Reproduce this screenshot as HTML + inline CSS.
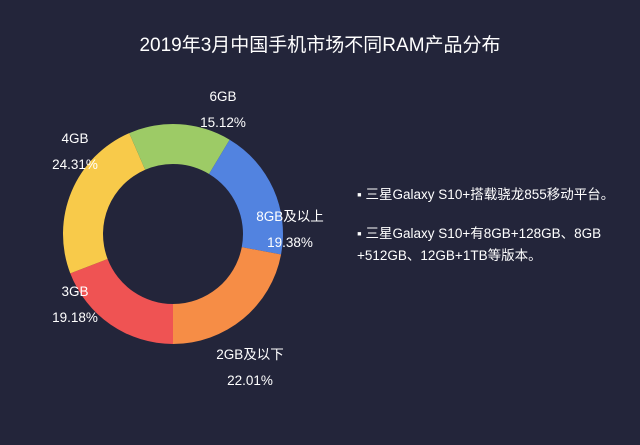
<!DOCTYPE html>
<html><head><meta charset="utf-8"><style>
body{margin:0;background:#23253a;width:640px;height:445px;overflow:hidden;font-family:"Liberation Sans","Noto Sans CJK SC",sans-serif;color:#fff}
svg{position:absolute;left:0;top:0}
.note{position:absolute;left:357px;font-size:13.5px;line-height:22px;color:#fff;width:280px}
</style></head><body>
<svg width="640" height="445">
<text x="320" y="51" text-anchor="middle" font-size="19" fill="#fff" font-family="Liberation Sans, Noto Sans CJK SC, sans-serif">2019年3月中国手机市场不同RAM产品分布</text>
<g id="slices"></g><g id="labels"></g>
</svg>
<div class="note" style="top:184px">▪ 三星Galaxy S10+搭载骁龙855移动平台。</div>
<div class="note" style="top:223px">▪ 三星Galaxy S10+有8GB+128GB、8GB<br>+512GB、12GB+1TB等版本。</div>
<script>
const categories=["3GB","4GB","6GB","8GB及以上","2GB及以下"];
const values=[19.18,24.31,15.12,19.38,22.01];
const colors=["#ef5353","#f8ca4a","#9dcb66","#5283e0","#f68d46"];
const labelPos=[[75,296],[75,143],[223,101],[290,221],[250,359]];
const cx=173,cy=234,R=110,r=70;
const ns="http://www.w3.org/2000/svg";
const total=values.reduce((a,b)=>a+b,0);
function pt(a,rad){return [cx+rad*Math.sin(a),cy-rad*Math.cos(a)];}
let a0=Math.PI;
const g=document.getElementById('slices'),lg=document.getElementById('labels');
values.forEach((v,i)=>{
  const a1=a0+v/total*2*Math.PI;
  const [x0,y0]=pt(a0,R),[x1,y1]=pt(a1,R),[x2,y2]=pt(a1,r),[x3,y3]=pt(a0,r);
  const lf=(a1-a0)>Math.PI?1:0;
  const p=document.createElementNS(ns,'path');
  p.setAttribute('d',`M${x0},${y0}A${R},${R} 0 ${lf} 1 ${x1},${y1}L${x2},${y2}A${r},${r} 0 ${lf} 0 ${x3},${y3}Z`);
  p.setAttribute('fill',colors[i]);
  
  
  g.appendChild(p);
  const [lx,ly]=labelPos[i];
  [categories[i],v.toFixed(2)+'%'].forEach((s,k)=>{
    const t=document.createElementNS(ns,'text');
    t.setAttribute('x',lx);t.setAttribute('y',ly+k*26);
    t.setAttribute('text-anchor','middle');t.setAttribute('font-size','13.5');t.setAttribute('fill','#fff');
    t.setAttribute('font-family','Liberation Sans, Noto Sans CJK SC, sans-serif');
    t.textContent=s;
    
    
    lg.appendChild(t);
  });
  a0=a1;
});
</script>
</body></html>
